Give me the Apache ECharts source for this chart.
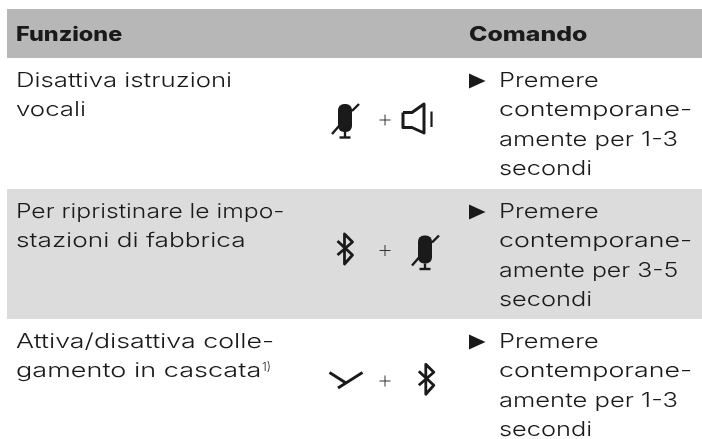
<!DOCTYPE html>
<html>
<head>
<meta charset="utf-8">
<style>
  html, body { margin: 0; padding: 0; background: #fff; }
  #main { width: 702px; height: 439px; }
</style>
</head>
<body>
<div id="main"></div>
<script src="https://cdn.jsdelivr.net/npm/echarts@6/dist/echarts.min.js"></script>
<script>
const headers = ['Funzione', 'Comando']
const functionLines = [
  ['Disattiva istruzioni', 'vocali'],
  ['Per ripristinare le impo-', 'stazioni di fabbrica'],
  ['Attiva/disattiva colle-', 'gamento in cascata']
]
const commandLines = [
  ['Premere', 'contemporane-', 'amente per 1-3', 'secondi'],
  ['Premere', 'contemporane-', 'amente per 3-5', 'secondi'],
  ['Premere', 'contemporane-', 'amente per 1-3', 'secondi']
]
const footnoteMark = '1)'

const font = 'Inter'
const ink = '#1a1a1a'
const rowTops = [58, 189, 319]
const lineStep = 29.3

// the original face is wider than Inter, so lines get stretched a bit
const stretch = {
  'Disattiva istruzioni': 1.288,
  vocali: 1.29,
  'Per ripristinare le impo-': 1.233,
  'stazioni di fabbrica': 1.31,
  'Attiva/disattiva colle-': 1.338,
  'gamento in cascata': 1.353,
  'contemporane-': 1.34,
  'amente per 1-3': 1.277,
  'amente per 3-5': 1.242,
  Funzione: 1.17,
  Comando: 1.24
}

function text (str, x, y, size, weight, scaleX) {
  return {
    type: 'text',
    x,
    y,
    scaleX: scaleX || stretch[str] || 1.27,
    style: { text: str, font: `${weight || 300} ${size || 20}px ${font}`, fill: ink, textVerticalAlign: 'middle' }
  }
}

function seg (points, width, color) {
  return {
    type: 'polyline',
    shape: { points },
    style: { fill: null, stroke: color || ink, lineWidth: width || 3, lineJoin: 'round' }
  }
}

function mic (x, y) {
  return {
    type: 'group',
    x,
    y,
    children: [
      { type: 'rect', shape: { x: -7, y: -14, width: 14, height: 28, r: 6 }, style: { fill: ink } },
      seg([[0, 14], [0, 19]], 2.4),
      seg([[-5.5, 19.5], [5.5, 19.5]], 2.4),
      seg([[-13, 16], [-6, 8]], 2.4),
      seg([[7, -7], [14, -14]], 2.4)
    ]
  }
}

function speaker (x, y) {
  return {
    type: 'group',
    x,
    y,
    children: [
      seg([[-11, -7.5], [-2, -7.5], [10, -16], [10, 13], [-2, 7.5], [-11, 7.5], [-11, -7.5]]),
      seg([[17.5, -8.5], [17.5, 7]], 2.2)
    ]
  }
}

function bluetooth (x, y) {
  return {
    type: 'group',
    x,
    y,
    children: [
      seg([[-7, -8], [8, 6], [0, 15], [0, -15], [8, -7], [-7, 6]], 2.8)
    ]
  }
}

function chevron (x, y) {
  return {
    type: 'group',
    x,
    y,
    children: [
      seg([[-16.5, -5.5], [0, 5]], 2.8),
      seg([[16.5, -5.5], [-8, 10]], 2.8)
    ]
  }
}

function plus (x, y) {
  return {
    type: 'group',
    x,
    y,
    children: [
      seg([[-5.5, 0], [5.5, 0]], 1, '#333'),
      seg([[0, -5.5], [0, 5.5]], 1, '#333')
    ]
  }
}

const elements = [
  { type: 'rect', shape: { x: 7, y: 9, width: 695, height: 49 }, style: { fill: '#b7b7b7' } },
  { type: 'rect', shape: { x: 7, y: 189, width: 695, height: 130 }, style: { fill: '#dcdcdc' } },
  text(headers[0], 16, 35, 20, 800),
  text(headers[1], 469, 35, 20, 800)
]

functionLines.forEach((lines, r) => {
  lines.forEach((line, i) => {
    elements.push(text(line, 16, rowTops[r] + 23 + i * lineStep))
  })
})
elements.push(text(footnoteMark, 262, 367, 12, 300, 1))

commandLines.forEach((lines, r) => {
  const top = rowTops[r] + 23
  elements.push({
    type: 'polygon',
    shape: { points: [[469, top - 7.5], [485.5, top], [469, top + 7.5]] },
    style: { fill: ink }
  })
  lines.forEach((line, i) => {
    elements.push(text(line, 499, top + i * lineStep))
  })
})

// key combinations
elements.push(mic(345, 118), plus(385, 120), speaker(414, 120))
elements.push(bluetooth(344.5, 249), plus(385, 250.5), mic(425, 249.5))
elements.push(chevron(346, 378), plus(385, 381), bluetooth(425.8, 379.3))

const myChart = echarts.init(document.getElementById('main'), null, { renderer: 'canvas' })
myChart.setOption({
  animation: false,
  backgroundColor: '#fff',
  graphic: { elements }
})

window.addEventListener('resize', () => {
  myChart.resize()
})
</script>
</body>
</html>
